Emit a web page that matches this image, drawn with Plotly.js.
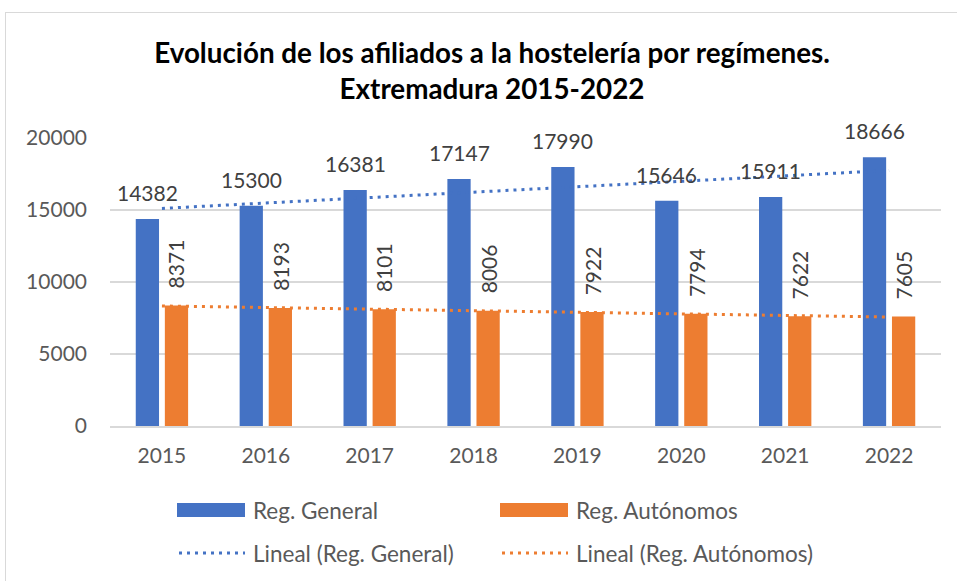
<!DOCTYPE html>
<html><head><meta charset="utf-8">
<script src="https://cdn.plot.ly/plotly-3.0.1.min.js"></script>
<style>
html,body{margin:0;padding:0;overflow:hidden;background:#fff}
#wrap{position:relative;width:957px;height:581px}
#chart{width:957px;height:581px}
#frame{position:absolute;left:5px;top:12px;width:1200px;height:1200px;border:1.3px solid #d9d9d9;pointer-events:none}
</style></head><body>
<div id="wrap"><div id="chart"></div><div id="frame"></div></div>
<script>
const years = ['2015','2016','2017','2018','2019','2020','2021','2022'];
const regGeneral = [14382, 15300, 16381, 17147, 17990, 15646, 15911, 18666];
const regAutonomos = [8371, 8193, 8101, 8006, 7922, 7794, 7622, 7605];
const seriesNames = ['Reg. General', 'Reg. Autónomos'];
const trendNames = ['Lineal (Reg. General)', 'Lineal (Reg. Autónomos)'];
const yTickVals = [0, 5000, 10000, 15000, 20000];
const titleText = '<b>Evolución de los afiliados a la hostelería por regímenes.</b><br><b>Extremadura 2015-2022</b>';

const BLUE = '#4472C4', ORANGE = '#ED7D31';
const FONT = 'Lato, "Open Sans", sans-serif';
const TXT = '#595959';

function linearFit(vals){
  const n = vals.length;
  let sx=0, sy=0, sxy=0, sxx=0;
  vals.forEach((v,i)=>{sx+=i; sy+=v; sxy+=i*v; sxx+=i*i;});
  const b = (n*sxy - sx*sy)/(n*sxx - sx*sx);
  const a = (sy - b*sx)/n;
  return vals.map((_,i)=>a+b*i);
}

const M = {l:110, r:16, t:138, b:155};
const W = 957, H = 581;
const pw = W - M.l - M.r, ph = H - M.t - M.b;
const P = px => (px - M.l)/pw;
const Q = py => (H - M.b - py)/ph;

const traces = [
  {type:'bar', x:years, y:regGeneral, name:seriesNames[0], marker:{color:BLUE}, hoverinfo:'skip'},
  {type:'bar', x:years, y:regAutonomos, name:seriesNames[1], marker:{color:ORANGE}, hoverinfo:'skip'},
  {type:'scatter', mode:'lines', x:years, y:linearFit(regGeneral), name:trendNames[0],
   line:{color:BLUE, width:3, dash:'3px,5px'}, hoverinfo:'skip'},
  {type:'scatter', mode:'lines', x:years, y:linearFit(regAutonomos), name:trendNames[1],
   line:{color:ORANGE, width:3, dash:'3px,5px'}, hoverinfo:'skip'}
];

const annotations = [];
years.forEach((yr,i)=>{
  annotations.push({xref:'x', yref:'y', x:i, y:regGeneral[i], text:String(regGeneral[i]),
    showarrow:false, xanchor:'center', yanchor:'bottom', xshift:-14.5, yshift:12,
    font:{family:FONT, size:21, color:'#404040'}});
  annotations.push({xref:'x', yref:'y', x:i, y:regAutonomos[i], text:String(regAutonomos[i]),
    showarrow:false, textangle:-90, xanchor:'center', yanchor:'bottom', xshift:14.5, yshift:15,
    font:{family:FONT, size:21, color:'#404040'}});
});

// custom legend (2 x 2)
const legendItems = [
  {kind:'rect', color:BLUE, x:177, y:510, label:seriesNames[0]},
  {kind:'rect', color:ORANGE, x:500, y:510, label:seriesNames[1]},
  {kind:'line', color:BLUE, x:177, y:553, label:trendNames[0]},
  {kind:'line', color:ORANGE, x:500, y:553, label:trendNames[1]}
];
const shapes = [];
legendItems.forEach(it=>{
  if(it.kind==='rect'){
    shapes.push({type:'rect', xref:'paper', yref:'paper', x0:P(it.x), x1:P(it.x+68), y0:Q(it.y+7), y1:Q(it.y-7),
      fillcolor:it.color, line:{width:0}});
  } else {
    shapes.push({type:'line', xref:'paper', yref:'paper', x0:P(it.x+2), x1:P(it.x+68), y0:Q(it.y), y1:Q(it.y),
      line:{color:it.color, width:3, dash:'3px,5px'}});
  }
  annotations.push({xref:'paper', yref:'paper', x:P(it.x+74), y:Q(it.y), xanchor:'left', yanchor:'middle',
    text:it.label, showarrow:false, font:{family:FONT, size:22.5, color:TXT}});
});

const layout = {
  width:W, height:H, margin:M,
  paper_bgcolor:'rgba(0,0,0,0)', plot_bgcolor:'#fff',
  showlegend:false,
  barmode:'group', bargap:0.44, bargroupgap:0.2,
  title:{text:titleText, x:492/W, xref:'container', xanchor:'center', y:1-63/H, yanchor:'middle', yref:'container',
    font:{family:FONT, size:27.8, color:'#000'}},
  xaxis:{type:'category', range:[-0.5, years.length-0.5], showgrid:false, showline:true, linecolor:'#d9d9d9', linewidth:1.5, ticks:'',
    tickfont:{family:FONT, size:21, color:TXT}, ticklabelstandoff:10, fixedrange:true},
  yaxis:{range:[0,20000], tickvals:yTickVals, ticktext:yTickVals.map(String), showgrid:true, gridcolor:'#d9d9d9', gridwidth:1.3,
    zeroline:false, showline:false, ticks:'', tickfont:{family:FONT, size:21, color:TXT}, ticklabelstandoff:22, fixedrange:true},
  annotations, shapes
};

Plotly.newPlot('chart', traces, layout, {displayModeBar:false, staticPlot:true});
</script>
</body></html>
